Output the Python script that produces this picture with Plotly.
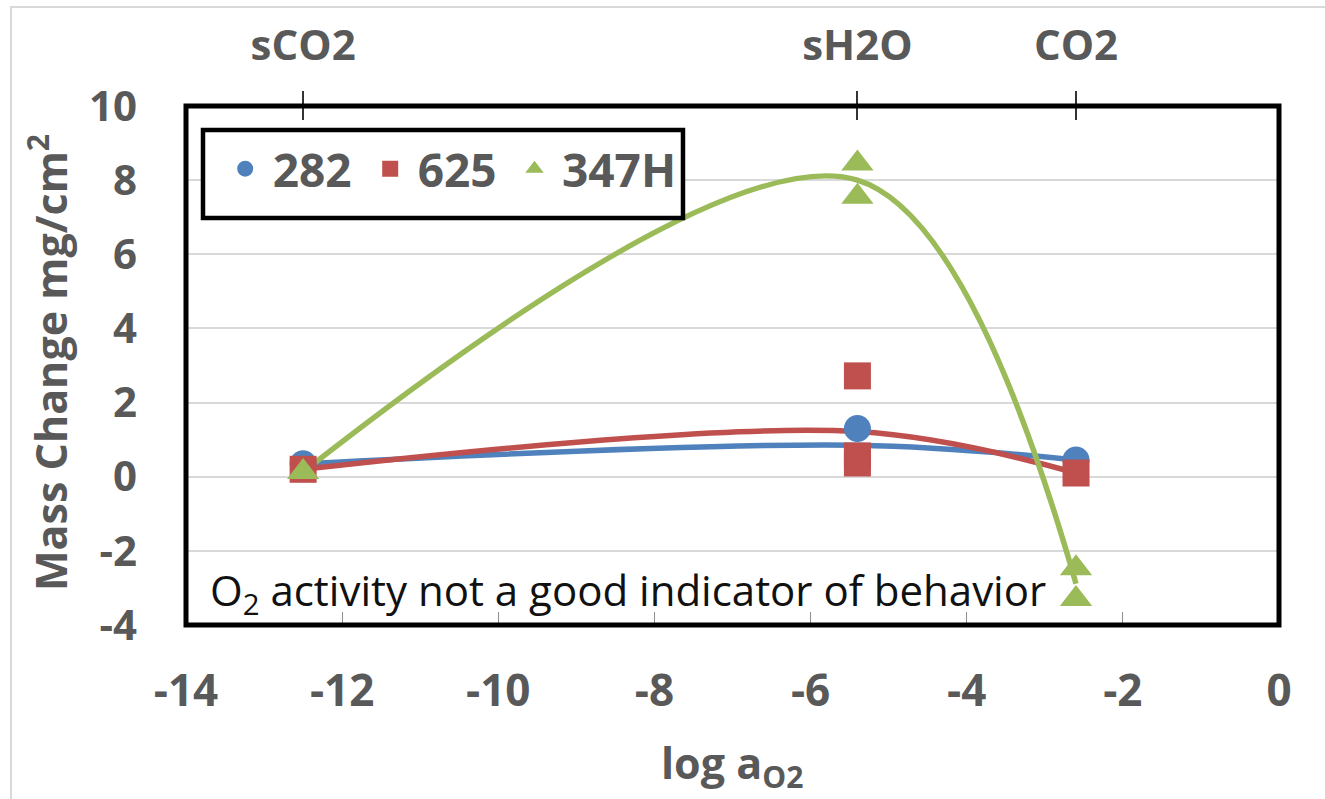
import plotly.graph_objects as go
import pandas as pd

# ---- data ----
series_names = ["282", "625", "347H"]
x_282 = [-12.5, -5.4, -5.4, -2.6]
y_282 = [0.35, 1.3, 0.4, 0.45]
x_625 = [-12.5, -5.4, -5.4, -5.4, -2.6]
y_625 = [0.2, 2.72, 0.56, 0.37, 0.1]
x_347H = [-12.5, -5.4, -5.4, -2.6, -2.6]
y_347H = [0.13, 8.45, 7.55, -2.47, -3.3]

x_ticks = [-14, -12, -10, -8, -6, -4, -2, 0]
y_ticks = [-4, -2, 0, 2, 4, 6, 8, 10]
top_tick_vals = [-12.5, -5.4, -2.6]
top_tick_text = ["sCO2", "sH2O", "CO2"]

colors = ["#4F81BD", "#C0504D", "#9BBB59"]
symbols = ["circle", "square", "triangle-up"]
sizes = [27, 27, 28]
marker_axes = ["x2", "x3", "x3"]
legend_ids = ["legend", "legend", "legend2"]

xs = [x_282, x_625, x_347H]
ys = [y_282, y_625, y_347H]

GRAY = "#595959"
FONT = "Open Sans"

fig = go.Figure()

# smoothed lines through the mean at each x
for name, xv, yv, c in zip(series_names, xs, ys, colors):
    df = pd.DataFrame({"x": xv, "y": yv}).groupby("x", as_index=False)["y"].mean()
    fig.add_trace(go.Scatter(
        x=df["x"], y=df["y"], mode="lines",
        line=dict(color=c, width=5.5, shape="spline", smoothing=1),
        showlegend=False, hoverinfo="skip"))

for name, xv, yv, c, s, sz, ax, lg in zip(series_names, xs, ys, colors, symbols,
                                           sizes, marker_axes, legend_ids):
    fig.add_trace(go.Scatter(
        x=xv, y=yv, mode="markers", name=name, xaxis=ax, yaxis="y", legend=lg,
        marker=dict(color=c, symbol=s, size=sz, line=dict(width=0))))

legend_font = dict(family=FONT, size=46, color=GRAY, weight="bold")

fig.update_layout(
    width=1325, height=799,
    margin=dict(l=186, r=46, t=106, b=174),
    paper_bgcolor="white", plot_bgcolor="white",
    font=dict(family=FONT, color=GRAY),
    showlegend=True,
    legend=dict(
        orientation="h", x=0.0290, y=0.879, xanchor="left", yanchor="middle",
        borderwidth=0, bgcolor="rgba(0,0,0,0)", font=legend_font,
        entrywidth=85, entrywidthmode="pixels",
        itemwidth=45, itemsizing="trace"),
    legend2=dict(
        orientation="h", x=0.2937, y=0.879, xanchor="left", yanchor="middle",
        borderwidth=0, bgcolor="rgba(0,0,0,0)", font=legend_font,
        itemwidth=45, itemsizing="trace"),
    xaxis=dict(
        range=[-14, 0], tickmode="array", tickvals=x_ticks,
        ticktext=[str(v) for v in x_ticks], automargin=False,
        showgrid=False, zeroline=False, showline=False,
        ticks="inside", ticklen=13, tickcolor="#8c8c8c", tickwidth=1,
        tickfont=dict(family=FONT, size=44, color=GRAY, weight="bold"),
        ticklabelstandoff=36),
    xaxis2=dict(
        range=[-14, 0], overlaying="x", side="top", anchor="y", automargin=False,
        tickmode="array", tickvals=top_tick_vals, ticktext=top_tick_text,
        showgrid=False, zeroline=False, showline=False,
        ticks="outside", ticklen=14, tickcolor="#333333", tickwidth=1.5,
        tickfont=dict(family=FONT, size=42, color=GRAY, weight="bold"),
        ticklabelstandoff=14),
    xaxis3=dict(
        range=[-14, 0], overlaying="x", side="top", anchor="y", automargin=False,
        tickmode="array", tickvals=top_tick_vals, showticklabels=False,
        showgrid=False, zeroline=False, showline=False,
        ticks="inside", ticklen=14, tickcolor="#333333", tickwidth=1.5),
    yaxis=dict(
        range=[-4, 10], tickmode="array", tickvals=y_ticks,
        ticktext=[str(v) for v in y_ticks], automargin=False,
        showgrid=True, gridcolor="#d9d9d9", gridwidth=2,
        zeroline=False, showline=False, ticks="",
        tickfont=dict(family=FONT, size=42, color=GRAY, weight="bold"),
        ticklabelstandoff=48),
)

# plot-area frame, legend frame and outer chart frame
fig.add_shape(type="rect", xref="paper", yref="paper", x0=0, x1=1, y0=0, y1=1,
              line=dict(color="black", width=5), layer="above")
fig.add_shape(type="rect", xref="paper", yref="paper", x0=0.01555, x1=0.4547,
              y0=0.7842, y1=0.9538, line=dict(color="black", width=4.5),
              fillcolor="white", layer="above")
fig.add_shape(type="rect", xref="paper", yref="paper", x0=-0.1601, x1=1.2,
              y0=-0.6, y1=1.1908, line=dict(color="#d9d9d9", width=2), layer="below")

# axis titles
fig.add_annotation(text="Mass Change mg/cm<sup>2</sup>", xref="paper", yref="paper",
                   x=-0.1253, y=0.505, xanchor="center", yanchor="middle",
                   textangle=-90, showarrow=False,
                   font=dict(family=FONT, size=43, color=GRAY, weight="bold"))
fig.add_annotation(text="log a<sub>O2</sub>", xref="paper", yref="paper",
                   x=0.4995, y=-0.27, xanchor="center", yanchor="middle",
                   showarrow=False,
                   font=dict(family=FONT, size=43, color=GRAY, weight="bold"))
fig.add_annotation(text="O<sub>2</sub> activity not a good indicator of behavior",
                   xref="paper", yref="paper", x=0.020, y=0.0617,
                   xanchor="left", yanchor="middle", showarrow=False,
                   font=dict(family=FONT, size=42, color="#111111"))

fig.write_html("out.html")
